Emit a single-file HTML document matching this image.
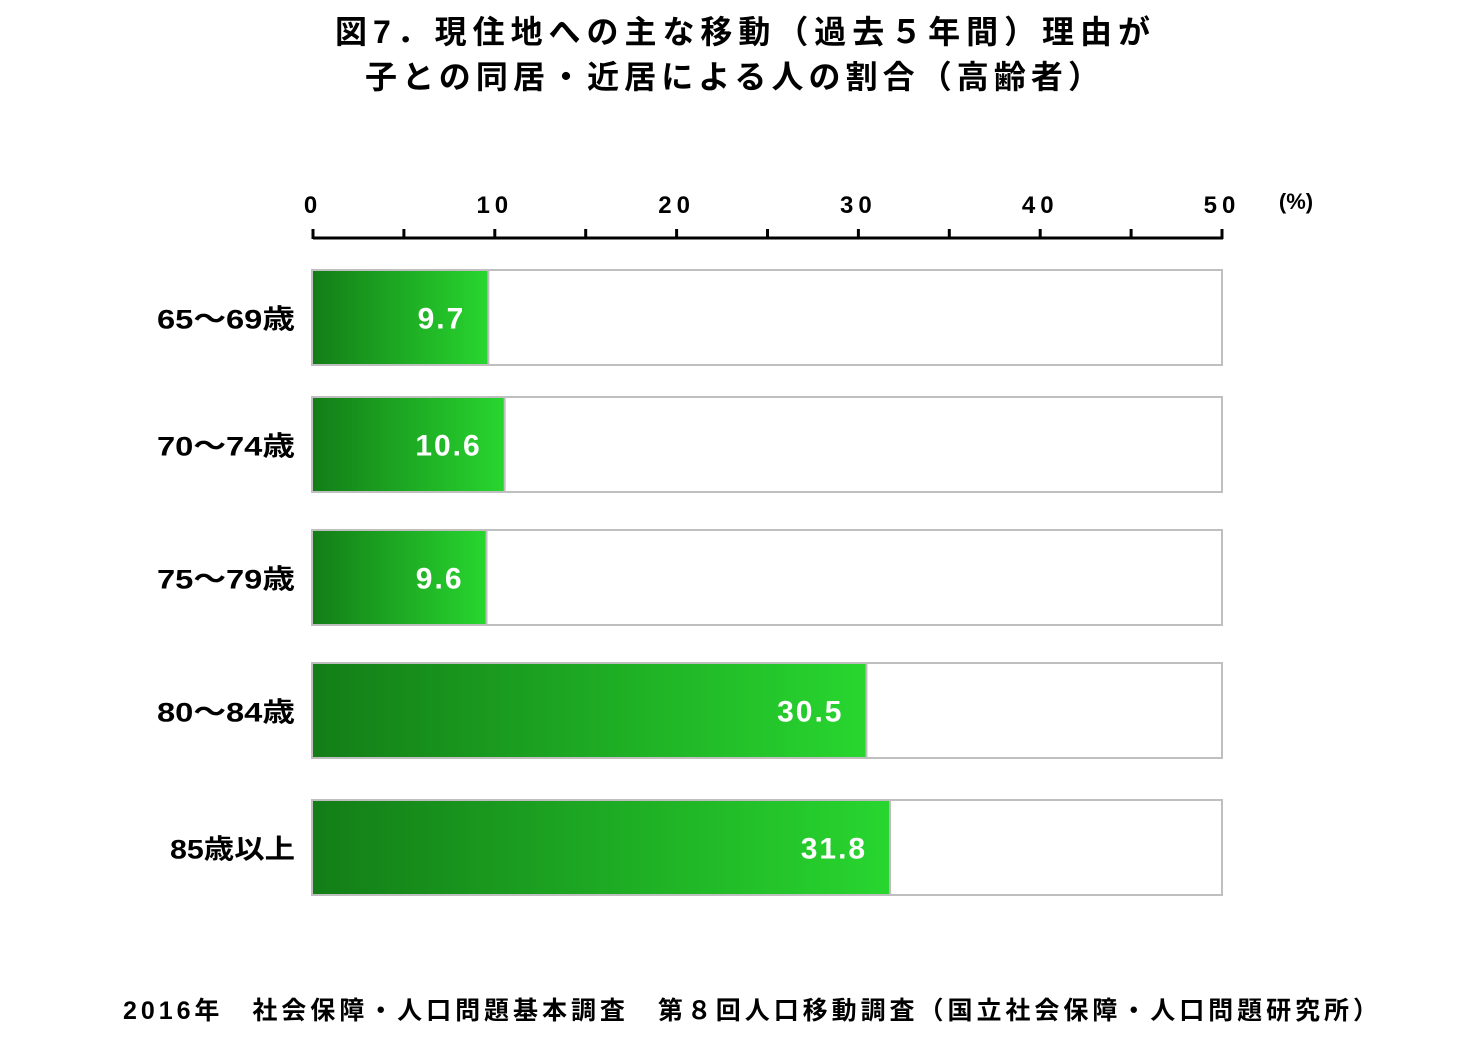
<!DOCTYPE html>
<html><head><meta charset="utf-8"><style>
body{margin:0;background:#fff;}
svg text{font-family:"Liberation Sans","Noto Sans CJK JP",sans-serif;font-weight:bold;}
</style></head><body>
<svg width="1483" height="1049" xmlns="http://www.w3.org/2000/svg">
<defs><linearGradient id="g" x1="0" x2="1" y1="0" y2="0"><stop offset="0" stop-color="#137d17"/><stop offset="1" stop-color="#28d62f"/></linearGradient></defs>
<text x="335" y="43" font-size="32" textLength="815" lengthAdjust="spacing">図7．現住地への主な移動（過去５年間）理由が</text>
<text x="365" y="88" font-size="32" textLength="735" lengthAdjust="spacing">子との同居・近居による人の割合（高齢者）</text>
<g id="axis"></g>
<g id="bars"></g>
<text x="1296" y="209" font-size="22" text-anchor="middle">(%)</text>
<text x="123" y="1019" font-size="25" textLength="1255" lengthAdjust="spacing">2016年　社会保障・人口問題基本調査　第８回人口移動調査（国立社会保障・人口問題研究所）</text>
</svg>
<script>
const categories=["65～69歳","70～74歳","75～79歳","80～84歳","85歳以上"];
const values=[9.7,10.6,9.6,30.5,31.8];
const tickValues=[0,10,20,30,40,50];
const NS="http://www.w3.org/2000/svg";
const x0=313,x1=1222,max=50;
const xs=v=>x0+(x1-x0)*v/max;
const rowTop=[270,397,530,663,800],rowH=95;
function mk(t,a,p){const e=document.createElementNS(NS,t);for(const k in a)e.setAttribute(k,a[k]);p.appendChild(e);return e;}
const ax=document.getElementById('axis');
mk('line',{x1:x0,x2:x1+1,y1:238,y2:238,stroke:'#000','stroke-width':3},ax);
for(let v=0;v<=max;v+=5){const t=mk('line',{x1:xs(v),x2:xs(v),y1:229,y2:239,stroke:'#000','stroke-width':3},ax);}
tickValues.forEach(v=>{const t=mk('text',{x:xs(v),y:213,'font-size':24,'text-anchor':'middle','letter-spacing':'5'},ax);t.textContent=v;

});
const bg=document.getElementById('bars');
categories.forEach((c,i)=>{const y=rowTop[i];
const bx=mk('rect',{x:x0-1,y:y,width:x1-x0+1,height:rowH,fill:'#fff',stroke:'#bfbfbf','stroke-width':2},bg);


const b=mk('rect',{x:x0-1,y:y,width:xs(values[i])-x0,height:rowH,fill:'url(#g)',stroke:'#bfbfbf','stroke-width':2},bg);


const vl=mk('text',{x:xs(values[i])-24,y:y+rowH/2+11,'font-size':30,fill:'#fff','text-anchor':'end','letter-spacing':'2'},bg);vl.textContent=values[i].toFixed(1);


const w=c.length===6?138:125;
const cl=mk('text',{x:295-w,y:y+rowH/2+11,'font-size':27,textLength:w,lengthAdjust:'spacingAndGlyphs'},bg);cl.textContent=c;


});
</script>
</body></html>
